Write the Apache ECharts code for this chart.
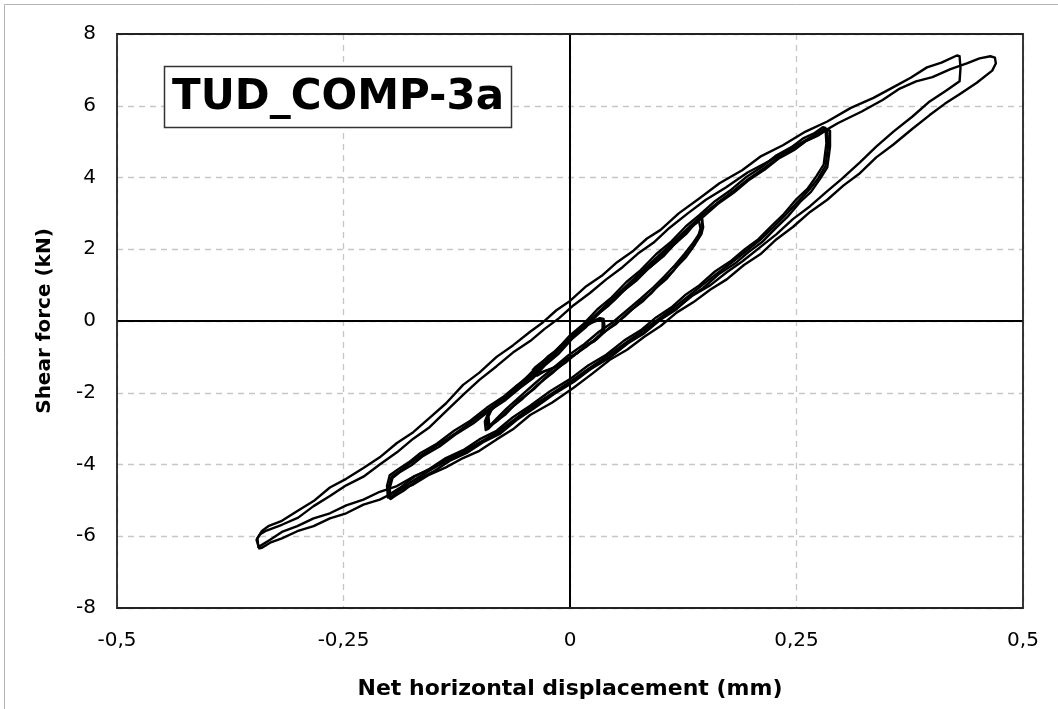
<!DOCTYPE html>
<html>
<head>
<meta charset="utf-8">
<title>TUD_COMP-3a</title>
<script src="https://cdn.jsdelivr.net/npm/echarts@6/dist/echarts.min.js"></script>
<style>
  html, body { margin: 0; padding: 0; background: #fff; }
  #chart { width: 1058px; height: 709px; }
</style>
</head>
<body>
<div id="chart"></div>
<script>
// Axis ticks and their printed labels (decimal comma)
const xTicks = [-0.5, -0.25, 0, 0.25, 0.5];
const xTickLabels = ['-0,5', '-0,25', '0', '0,25', '0,5'];
const yTicks = [-8, -6, -4, -2, 0, 2, 4, 6, 8];
const yTickLabels = ['-8', '-6', '-4', '-2', '0', '2', '4', '6', '8'];

const xTitle = 'Net horizontal displacement (mm)';
const yTitle = 'Shear force (kN)';
const specimen = 'TUD_COMP-3a';

// Recorded cycles: [net horizontal displacement (mm), shear force (kN)]
// Amplitude level 1
const cycleA1 = [[-0.040,-1.52],[-0.041,-1.36],[-0.034,-1.24],[-0.024,-0.98],[-0.012,-0.76],[0.000,-0.46],[0.012,-0.26],[0.024,-0.02],[0.033,0.08],[0.037,0.06],
  [0.038,-0.12],[0.037,-0.32],
  [0.030,-0.50],[0.020,-0.64],[0.008,-0.90],[-0.004,-1.06],[-0.016,-1.28],[-0.028,-1.40],[-0.036,-1.52],[-0.040,-1.52]];
const cycleA2 = [[-0.038,-1.46],[-0.039,-1.30],[-0.031,-1.14],[-0.021,-0.96],[-0.010,-0.68],[0.002,-0.46],[0.014,-0.18],[0.025,-0.04],[0.033,0.04],[0.036,0.00],
  [0.036,-0.20],[0.034,-0.38],
  [0.027,-0.56],[0.016,-0.72],[0.004,-0.96],[-0.008,-1.12],[-0.020,-1.34],[-0.031,-1.42],[-0.038,-1.46]];

// Amplitude level 2
const cycleB1 = [[-0.091,-2.98],[-0.092,-2.72],[-0.089,-2.50],[-0.080,-2.32],[-0.068,-2.02],[-0.055,-1.76],[-0.042,-1.42],[-0.028,-1.14],[-0.014,-0.78],[0.000,-0.50],[0.015,-0.12],[0.030,0.18],[0.045,0.56],[0.060,0.86],[0.075,1.24],[0.090,1.54],[0.105,1.92],[0.118,2.20],[0.130,2.54],[0.140,2.74],[0.145,2.90],
  [0.147,2.86],[0.147,2.62],[0.145,2.42],
  [0.138,2.14],[0.128,1.78],[0.118,1.52],[0.106,1.16],[0.094,0.90],[0.080,0.54],[0.065,0.26],[0.050,-0.10],[0.034,-0.36],[0.018,-0.72],[0.000,-1.02],[-0.018,-1.42],[-0.035,-1.76],[-0.052,-2.16],[-0.068,-2.48],[-0.080,-2.78],[-0.088,-2.92],[-0.091,-2.98]];
const cycleB2 = [[-0.093,-3.04],[-0.094,-2.80],[-0.090,-2.56],[-0.082,-2.36],[-0.070,-2.14],[-0.057,-1.80],[-0.044,-1.54],[-0.030,-1.18],[-0.016,-0.90],[-0.002,-0.54],[0.013,-0.24],[0.028,0.14],[0.043,0.44],[0.058,0.82],[0.073,1.12],[0.088,1.50],[0.103,1.80],[0.116,2.16],[0.128,2.42],[0.138,2.72],[0.142,2.84],
  [0.144,2.80],[0.144,2.58],[0.142,2.40],
  [0.135,2.04],[0.125,1.76],[0.114,1.40],[0.102,1.12],[0.090,0.78],[0.076,0.50],[0.061,0.14],[0.046,-0.14],[0.030,-0.48],[0.014,-0.76],[-0.004,-1.14],[-0.022,-1.46],[-0.039,-1.88],[-0.056,-2.20],[-0.071,-2.60],[-0.083,-2.82],[-0.090,-3.00],[-0.093,-3.04]];
const cycleB3 = [[-0.089,-2.92],[-0.090,-2.66],[-0.086,-2.44],[-0.077,-2.22],[-0.064,-1.94],[-0.051,-1.64],[-0.038,-1.36],[-0.024,-1.02],[-0.010,-0.72],[0.004,-0.38],[0.019,-0.06],[0.034,0.28],[0.049,0.62],[0.064,0.96],[0.079,1.30],[0.094,1.62],[0.108,1.98],[0.121,2.28],[0.132,2.58],[0.141,2.80],[0.143,2.88],
  [0.146,2.84],[0.146,2.60],[0.143,2.44],
  [0.136,2.18],[0.126,1.86],[0.116,1.56],[0.104,1.24],[0.092,0.94],[0.078,0.62],[0.063,0.30],[0.048,-0.02],[0.032,-0.30],[0.016,-0.64],[-0.002,-0.96],[-0.020,-1.34],[-0.037,-1.70],[-0.054,-2.08],[-0.070,-2.44],[-0.081,-2.72],[-0.087,-2.88],[-0.089,-2.92]];

// Amplitude level 3
const cycleC1 = [[-0.201,-4.92],[-0.202,-4.60],[-0.199,-4.30],[-0.190,-4.14],[-0.178,-3.94],[-0.165,-3.68],[-0.147,-3.42],[-0.128,-3.06],[-0.110,-2.78],[-0.092,-2.42],[-0.074,-2.12],[-0.058,-1.78],[-0.044,-1.52],[-0.030,-1.14],[-0.015,-0.82],[0.000,-0.40],[0.015,-0.08],[0.030,0.32],[0.046,0.66],[0.062,1.08],[0.078,1.42],[0.095,1.86],[0.112,2.22],[0.128,2.64],[0.143,2.96],[0.160,3.34],[0.178,3.66],[0.195,4.02],[0.212,4.30],[0.228,4.62],[0.244,4.84],[0.258,5.10],[0.270,5.24],[0.279,5.40],
  [0.282,5.38],[0.283,4.95],[0.280,4.36],
  [0.272,4.04],[0.262,3.68],[0.250,3.40],[0.236,2.98],[0.222,2.64],[0.208,2.28],[0.193,2.00],[0.178,1.68],[0.160,1.38],[0.143,1.00],[0.128,0.74],[0.112,0.38],[0.095,0.10],[0.078,-0.26],[0.060,-0.54],[0.040,-0.94],[0.020,-1.24],[0.000,-1.62],[-0.022,-1.96],[-0.044,-2.36],[-0.063,-2.68],[-0.081,-3.06],[-0.100,-3.30],[-0.118,-3.60],[-0.137,-3.82],[-0.155,-4.12],[-0.172,-4.34],[-0.186,-4.62],[-0.196,-4.78],[-0.201,-4.92]];
const cycleC2 = [[-0.198,-4.96],[-0.199,-4.66],[-0.196,-4.38],[-0.187,-4.20],[-0.175,-4.02],[-0.162,-3.76],[-0.144,-3.50],[-0.125,-3.14],[-0.107,-2.86],[-0.089,-2.50],[-0.071,-2.20],[-0.055,-1.86],[-0.041,-1.60],[-0.027,-1.22],[-0.012,-0.90],[0.003,-0.48],[0.018,-0.16],[0.033,0.24],[0.049,0.58],[0.065,1.00],[0.081,1.34],[0.098,1.78],[0.115,2.14],[0.131,2.56],[0.146,2.88],[0.163,3.26],[0.181,3.58],[0.198,3.94],[0.215,4.22],[0.231,4.54],[0.247,4.76],[0.261,5.02],[0.273,5.16],[0.284,5.34],
  [0.287,5.30],[0.287,4.86],[0.284,4.28],
  [0.276,3.96],[0.266,3.60],[0.254,3.32],[0.240,2.90],[0.226,2.56],[0.212,2.20],[0.197,1.92],[0.182,1.60],[0.164,1.30],[0.147,0.92],[0.132,0.66],[0.116,0.30],[0.099,0.02],[0.082,-0.34],[0.064,-0.62],[0.044,-1.02],[0.024,-1.32],[0.004,-1.70],[-0.018,-2.04],[-0.040,-2.44],[-0.059,-2.76],[-0.077,-3.14],[-0.096,-3.38],[-0.114,-3.68],[-0.133,-3.90],[-0.151,-4.20],[-0.168,-4.42],[-0.182,-4.70],[-0.192,-4.86],[-0.198,-4.96]];
const cycleC3 = [[-0.199,-4.94],[-0.200,-4.62],[-0.197,-4.34],[-0.188,-4.18],[-0.176,-3.96],[-0.163,-3.72],[-0.145,-3.44],[-0.126,-3.12],[-0.108,-2.80],[-0.090,-2.46],[-0.072,-2.14],[-0.056,-1.84],[-0.042,-1.54],[-0.028,-1.20],[-0.013,-0.84],[0.002,-0.46],[0.017,-0.10],[0.032,0.26],[0.048,0.64],[0.064,1.02],[0.080,1.40],[0.097,1.80],[0.114,2.20],[0.130,2.58],[0.145,2.94],[0.162,3.28],[0.180,3.62],[0.197,3.96],[0.214,4.26],[0.230,4.56],[0.246,4.80],[0.260,5.04],[0.272,5.22],[0.281,5.36],
  [0.284,5.34],[0.285,4.90],[0.282,4.32],
  [0.274,3.98],[0.264,3.66],[0.252,3.34],[0.238,2.96],[0.224,2.60],[0.210,2.26],[0.195,1.96],[0.180,1.66],[0.162,1.32],[0.145,0.98],[0.130,0.68],[0.114,0.36],[0.097,0.04],[0.080,-0.28],[0.062,-0.60],[0.042,-0.96],[0.022,-1.30],[0.002,-1.66],[-0.020,-2.02],[-0.042,-2.38],[-0.061,-2.74],[-0.079,-3.08],[-0.098,-3.36],[-0.116,-3.62],[-0.135,-3.88],[-0.153,-4.14],[-0.170,-4.40],[-0.184,-4.64],[-0.194,-4.84],[-0.199,-4.94]];

// Amplitude level 4
const cycleD1 = [[-0.344,-6.30],[-0.345,-6.05],[-0.340,-5.85],[-0.333,-5.72],[-0.318,-5.57],[-0.300,-5.28],[-0.283,-5.02],[-0.265,-4.64],[-0.247,-4.40],[-0.228,-4.10],[-0.210,-3.80],[-0.191,-3.40],[-0.173,-3.10],[-0.155,-2.70],[-0.137,-2.30],[-0.118,-1.78],[-0.100,-1.44],[-0.081,-1.00],[-0.063,-0.68],[-0.044,-0.30],[-0.030,-0.04],[-0.015,0.30],[0.000,0.56],[0.018,0.97],[0.035,1.26],[0.052,1.64],[0.070,1.96],[0.085,2.30],[0.100,2.54],[0.120,3.00],[0.143,3.42],[0.165,3.84],[0.190,4.20],[0.210,4.58],[0.235,4.90],[0.260,5.28],[0.284,5.56],[0.310,5.94],[0.335,6.22],[0.357,6.52],[0.376,6.78],[0.394,7.07],[0.410,7.20],[0.427,7.40],
  [0.430,7.38],[0.431,7.05],[0.430,6.68],
  [0.415,6.42],[0.397,6.12],[0.378,5.70],[0.357,5.28],[0.338,4.86],[0.320,4.42],[0.300,3.96],[0.284,3.62],[0.265,3.20],[0.246,2.84],[0.228,2.42],[0.210,2.06],[0.190,1.66],[0.173,1.36],[0.155,1.00],[0.136,0.72],[0.118,0.36],[0.100,0.06],[0.082,-0.32],[0.063,-0.62],[0.044,-1.00],[0.025,-1.28],[0.000,-1.74],[-0.022,-2.08],[-0.044,-2.48],[-0.063,-2.80],[-0.081,-3.16],[-0.100,-3.40],[-0.118,-3.68],[-0.137,-3.86],[-0.155,-4.14],[-0.173,-4.34],[-0.191,-4.60],[-0.210,-4.76],[-0.228,-4.98],[-0.247,-5.14],[-0.265,-5.36],[-0.283,-5.50],[-0.301,-5.72],[-0.318,-5.88],[-0.331,-6.10],[-0.340,-6.24],[-0.344,-6.30]];
const cycleD2 = [[-0.343,-6.34],[-0.346,-6.10],[-0.342,-5.94],[-0.335,-5.84],[-0.318,-5.68],[-0.300,-5.48],[-0.283,-5.16],[-0.265,-4.88],[-0.247,-4.58],[-0.228,-4.34],[-0.210,-4.00],[-0.191,-3.66],[-0.173,-3.28],[-0.155,-2.96],[-0.137,-2.52],[-0.118,-2.06],[-0.100,-1.64],[-0.081,-1.26],[-0.063,-0.88],[-0.044,-0.56],[-0.028,-0.22],[-0.012,0.08],[0.004,0.44],[0.022,0.78],[0.040,1.16],[0.058,1.50],[0.075,1.88],[0.092,2.18],[0.110,2.60],[0.130,3.00],[0.150,3.38],[0.172,3.72],[0.196,4.14],[0.220,4.46],[0.245,4.84],[0.270,5.14],[0.296,5.52],[0.322,5.84],[0.345,6.16],[0.364,6.48],[0.382,6.68],[0.400,6.80],[0.420,7.02],[0.438,7.18],[0.452,7.32],[0.464,7.38],
  [0.469,7.34],[0.470,7.18],[0.466,6.98],
  [0.449,6.64],[0.430,6.32],[0.414,6.06],[0.397,5.74],[0.378,5.36],[0.357,4.92],[0.338,4.56],[0.320,4.12],[0.302,3.78],[0.284,3.38],[0.265,3.04],[0.246,2.62],[0.228,2.28],[0.210,1.86],[0.192,1.56],[0.173,1.16],[0.155,0.88],[0.136,0.52],[0.118,0.24],[0.100,-0.14],[0.082,-0.44],[0.063,-0.80],[0.044,-1.08],[0.025,-1.46],[0.004,-1.86],[-0.020,-2.28],[-0.044,-2.62],[-0.063,-3.02],[-0.081,-3.30],[-0.100,-3.62],[-0.118,-3.82],[-0.137,-4.08],[-0.155,-4.28],[-0.173,-4.56],[-0.191,-4.74],[-0.210,-4.98],[-0.228,-5.12],[-0.247,-5.36],[-0.265,-5.50],[-0.283,-5.72],[-0.301,-5.86],[-0.318,-6.06],[-0.331,-6.18],[-0.340,-6.32],[-0.343,-6.34]];

const cycles = [cycleA1, cycleA2, cycleB1, cycleB2, cycleB3, cycleC1, cycleC2, cycleC3, cycleD1, cycleD2];

const FONT = "'DejaVu Sans', Verdana, sans-serif";

// Plot rectangle in pixels
const PLOT = { left: 117, right: 35, top: 34, bottom: 101 };
const W = 1058, H = 709;

const chart = echarts.init(document.getElementById('chart'), null, { renderer: 'canvas' });

function tickLabel(ticks, labels) {
  return function (v) {
    const i = ticks.findIndex(t => Math.abs(t - v) < 1e-9);
    return i >= 0 ? labels[i] : '';
  };
}

const seriesList = cycles.map(c => ({
  type: 'line',
  data: c,
  showSymbol: false,
  symbol: 'none',
  smooth: false,
  silent: true,
  z: 3,
  lineStyle: { color: '#000', width: 2.4, join: 'round', cap: 'round' }
}));

// Solid reference lines through the origin
seriesList.push({
  type: 'line',
  data: [],
  silent: true,
  z: 2,
  markLine: {
    silent: true,
    symbol: ['none', 'none'],
    label: { show: false },
    animation: false,
    lineStyle: { color: '#000', width: 2, type: 'solid' },
    data: [{ xAxis: 0 }, { yAxis: 0 }]
  }
});

chart.setOption({
  animation: false,
  backgroundColor: '#fff',
  grid: {
    left: PLOT.left, right: PLOT.right, top: PLOT.top, bottom: PLOT.bottom,
    containLabel: false,
    outerBoundsMode: 'none',
    show: true,
    borderWidth: 0,
    backgroundColor: '#fff'
  },
  xAxis: {
    type: 'value',
    min: -0.5, max: 0.5, interval: 0.25,
    axisLine: { show: false },
    axisTick: { show: false },
    splitLine: { show: true, lineStyle: { color: '#c6c6c6', width: 1.3, type: [6, 5] } },
    axisLabel: {
      formatter: tickLabel(xTicks, xTickLabels),
      fontFamily: FONT, fontSize: 20, color: '#000', margin: 23,
      showMinLabel: true, showMaxLabel: true
    },
    name: xTitle,
    nameLocation: 'middle',
    nameGap: 70,
    nameTextStyle: { fontFamily: FONT, fontSize: 22, fontWeight: 'bold', color: '#000' }
  },
  yAxis: {
    type: 'value',
    min: -8, max: 8, interval: 2,
    axisLine: { show: false },
    axisTick: { show: false },
    splitLine: { show: true, lineStyle: { color: '#c6c6c6', width: 1.3, type: [6, 5] } },
    axisLabel: {
      formatter: tickLabel(yTicks, yTickLabels),
      fontFamily: FONT, fontSize: 20, color: '#000', margin: 21,
      showMinLabel: true, showMaxLabel: true
    },
    name: yTitle,
    nameLocation: 'middle',
    nameGap: 62,
    nameTextStyle: { fontFamily: FONT, fontSize: 20, fontWeight: 'bold', color: '#000' }
  },
  graphic: [
    {
      type: 'rect', z: -10, silent: true,
      shape: { x: 4.5, y: 4.5, width: 1200, height: 900 },
      style: { fill: 'none', stroke: '#b4b4b4', lineWidth: 1 }
    },
    {
      // plot frame drawn above the dashed grid
      type: 'rect', z: 50, silent: true,
      shape: { x: PLOT.left, y: PLOT.top, width: W - PLOT.left - PLOT.right, height: H - PLOT.top - PLOT.bottom },
      style: { fill: 'none', stroke: '#222', lineWidth: 1.8 }
    },
    {
      type: 'rect', z: 100, silent: true,
      shape: { x: 164.5, y: 66.5, width: 347, height: 61 },
      style: { fill: '#fff', stroke: '#333', lineWidth: 1.5 }
    },
    {
      type: 'text', z: 101, silent: true,
      x: 338, y: 98,
      style: {
        text: specimen,
        fontFamily: FONT, fontSize: 42, fontWeight: 'bold',
        fill: '#000', align: 'center', verticalAlign: 'middle'
      }
    }
  ],
  series: seriesList
});
</script>
</body>
</html>
